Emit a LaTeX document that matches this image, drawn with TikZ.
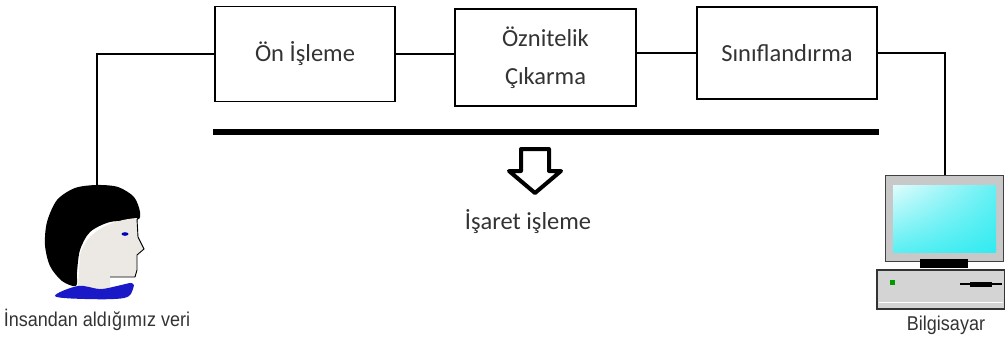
\documentclass[tikz,border=0pt]{standalone}
\usepackage{fontspec}
\setmainfont{Carlito}
\newfontfamily\labelfont[FakeStretch=0.9]{Liberation Sans}
\usetikzlibrary{shadings}

\definecolor{skin}{RGB}{236,232,228}
\definecolor{collar}{RGB}{25,25,200}
\definecolor{framegray}{RGB}{200,200,200}
\definecolor{casegray}{RGB}{212,212,212}
\definecolor{screencyan}{RGB}{50,235,240}

\tikzset{
  stage/.style={draw, line width=1.6pt, minimum width=180pt, minimum height=95pt,
    inner sep=0pt, align=center, text=black!80, font=\fontsize{24.5}{38}\selectfont},
  wire/.style={line width=1.3pt},
  caption/.style={text=black!80, font=\labelfont\fontsize{20}{22}\selectfont},
}

\begin{document}
\begin{tikzpicture}[x=1pt, y=-1pt]
      \useasboundingbox (0,0) rectangle (1005,338);

      % processing chain
      \node[stage] (pre) at (305,54) {Ön İşleme};
      \node[stage, minimum width=181pt, minimum height=97pt] (feat) at (545.5,57.5) {Öznitelik\\Çıkarma};
      \node[stage, minimum height=92pt] (cls) at (787,53) {Sınıflandırma};

      \coordinate (headtop) at (97,186);
      \coordinate (pctop) at (945,176);
      \draw[wire] (pre.west) -| (headtop);
      \draw[wire] (pre.east) -- (pre.east -| feat.west);
      \draw[wire] (cls.west -| feat.east) -- (cls.west);
      \draw[wire] (cls.east) -| (pctop);

      % signal processing bar and hollow arrow
      \coordinate (barL) at (213,132);
      \coordinate (barR) at (879,132);
      \draw[line width=6.5pt] (barL) -- (barR);
      \draw[line width=4pt, line join=round, fill=white]
        (521,149) -- (549,149) -- (549,171) -- (561,171) -- (535,193) --
        (509,171) -- (521,171) -- cycle;
      \node[text=black!80, font=\fontsize{24.5}{30}\selectfont] (dsp) at (528,222) {İşaret işleme};

      % head
      \fill[black] plot[smooth cycle] coordinates {(97,185) (118,187) (134,197) (140,212)
        (137,220) (110,222) (90,232) (80,250) (77,272) (76,286) (62,281) (50,266)
        (45,245) (47,222) (57,200) (75,188)};
      \fill[skin] (137,218) .. controls (110,220) and (86,232) .. (80,255) -- (78,287)
        -- (110,289) -- (110,277) -- (135,277) -- (137,270) -- (137,255) -- (144,249)
        -- (138,237) -- cycle;
      \draw[line width=0.9pt] (137,219) -- (138,237) -- (144,249) -- (137,255)
        -- (137,270) -- (135,277) -- (110,277);
      \fill[collar] plot[smooth cycle, tension=0.6] coordinates {(55,296) (78,286)
        (100,289) (117,286) (132,283) (133,289) (124,298) (85,299)};
      \fill[blue!75!black] (125,234) ellipse [x radius=3.5, y radius=1.8];
      \node[caption] (human) at (97,320) {İnsandan aldığımız veri};

      % computer
      \draw[fill=framegray, draw=black!75, line width=1pt] (885,175) rectangle (1003,261);
      \shade[upper left=white!85!screencyan, upper right=screencyan!75!white,
        lower left=screencyan!80!white, lower right=screencyan]
        (893,185) rectangle (996,252);
      \fill[black] (920,259) rectangle (968,268);
      \draw[fill=casegray, draw=black!80, line width=1.2pt] (877,270) rectangle (1005,309);
      \draw[white, line width=1pt] (879,302) -- (1003,302);
      \fill[green!60!black] (890,280) rectangle (895,285);
      \draw[line width=1.2pt] (960,284) -- (1002,284);
      \fill[black] (970,282) rectangle (992,286.5);
      \node[caption] (pc) at (946,325) {Bilgisayar};

    \end{tikzpicture}
\end{document}
